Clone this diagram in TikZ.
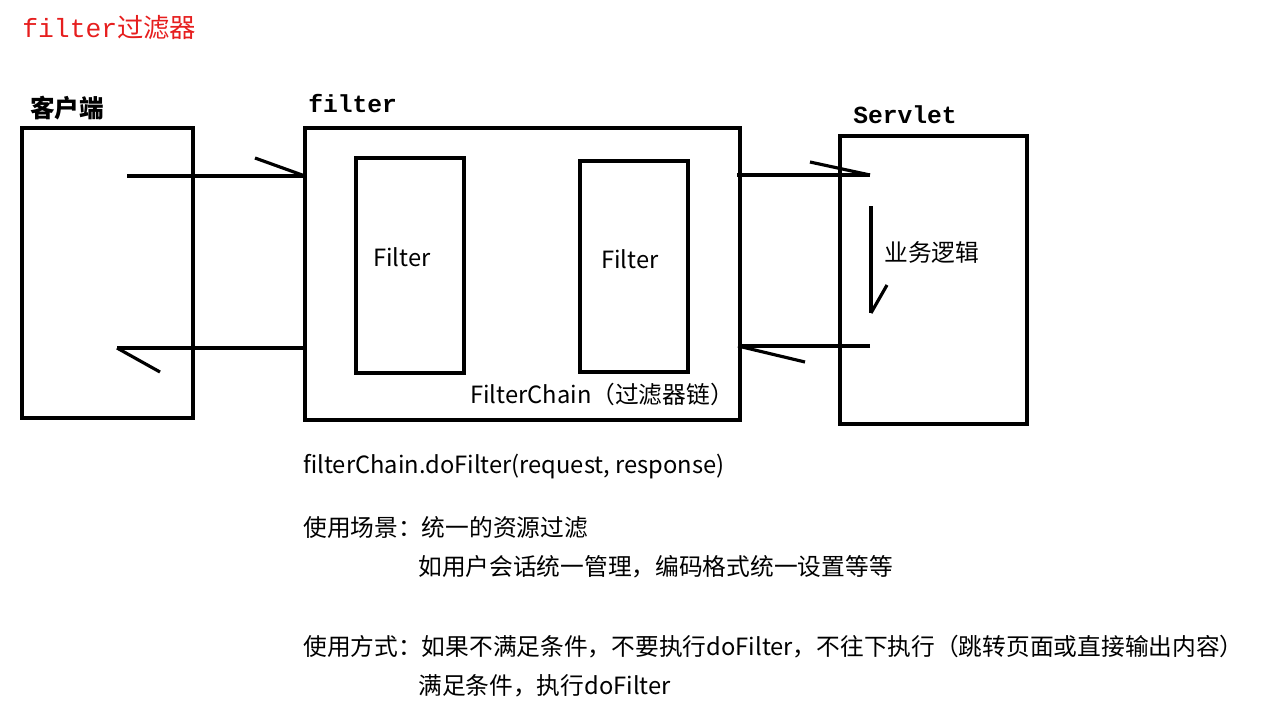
\documentclass[tikz,border=0pt]{standalone}
\usepackage{fontspec}
\setmainfont{Noto Sans CJK SC}
\newfontfamily\monocjk{Liberation Mono}
\newfontfamily\cjk{Noto Sans CJK SC}
\usetikzlibrary{positioning}
\definecolor{titleRed}{RGB}{230,30,30}
\tikzstyle{pix} = [x = 0.02cm, y = -0.02cm]
\tikzstyle{boxStyle} = [draw=black, line width=1.8pt]
\tikzstyle{strokeStyle} = [draw=black, line width=1.8pt]
\tikzstyle{headLabel} = [anchor=west, font=\fontsize{14}{16}\selectfont\bfseries, inner sep=0pt]
\tikzstyle{bodyText} = [anchor=west, font=\fontsize{13.5}{15}\selectfont\cjk, inner sep=0pt]
\newcommand{\handArrow}[3]{\draw [strokeStyle] (#1) -- (#2); \draw [strokeStyle] (#3) -- (#2);}
\begin{document}
\begin{tikzpicture}[pix]
  \useasboundingbox (0,0) rectangle (1265,714);
  % title
  \node [headLabel, text=titleRed, font=\fontsize{15}{17}\selectfont] (title) at (22,28) {{\monocjk filter}{\cjk 过滤器}};
  % boxes
  \node [headLabel] (clientLabel) at (30,108) {\cjk 客户端};
  \draw [boxStyle] (22,128) rectangle (193,418);
  \node [headLabel] (filterLabel) at (308,104) {\monocjk filter};
  \draw [boxStyle] (305,128) rectangle (740,420);
  \draw [boxStyle] (356,158) rectangle (464,373);
  \draw [boxStyle] (580,161) rectangle (688,372);
  \node [bodyText, anchor=center] (filterA) at (402,257) {Filter};
  \node [bodyText, anchor=center] (filterB) at (630,259) {Filter};
  \node [bodyText] (chain) at (470,394) {FilterChain（过滤器链）};
  \node [headLabel] (servletLabel) at (853,115) {\monocjk Servlet};
  \draw [boxStyle] (840,136) rectangle (1027,424);
  \node [bodyText] (logic) at (884,252) {业务逻辑};
  % hand drawn arrows
  \coordinate (reqStart) at (127,176);
  \coordinate (reqEnd) at (305,176);
  \coordinate (reqTick) at (255,158);
  \handArrow{reqStart}{reqEnd}{reqTick}
  \coordinate (fwdStart) at (737,175);
  \coordinate (fwdEnd) at (870,175);
  \coordinate (fwdTick) at (810,162);
  \handArrow{fwdStart}{fwdEnd}{fwdTick}
  \coordinate (downStart) at (871,206);
  \coordinate (downEnd) at (871,313);
  \coordinate (downTick) at (887,285);
  \handArrow{downStart}{downEnd}{downTick}
  \coordinate (backStart) at (870,346);
  \coordinate (backEnd) at (738,346);
  \coordinate (backTick) at (805,362);
  \handArrow{backStart}{backEnd}{backTick}
  \coordinate (respStart) at (305,348);
  \coordinate (respEnd) at (117,348);
  \coordinate (respTick) at (160,372);
  \handArrow{respStart}{respEnd}{respTick}
  % notes
  \node [bodyText] (call) at (303,467) {filterChain.doFilter(request, response)};
  \node [bodyText] (sceneA) at (303,527) {使用场景：统一的资源过滤};
  \node [bodyText] (sceneB) at (418,567) {如用户会话统一管理，编码格式统一设置等等};
  \node [bodyText] (useA) at (303,647) {使用方式：如果不满足条件，不要执行doFilter，不往下执行（跳转页面或直接输出内容）};
  \node [bodyText] (useB) at (418,686) {满足条件，执行doFilter};
\end{tikzpicture}
\end{document}
